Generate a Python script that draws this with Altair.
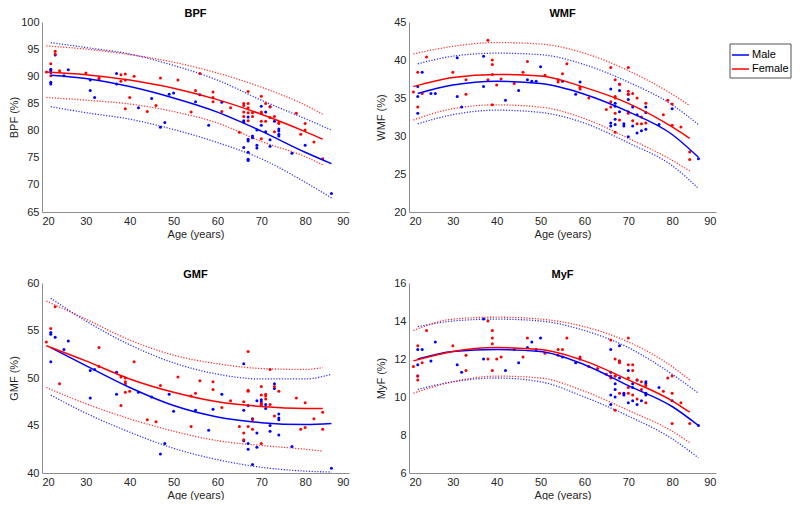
import altair as alt
import pandas as pd

BLUE = "#0000ff"
RED = "#ff0000"
FONT = "Liberation Sans"

# ---------------- fitted curves (read at knots) ----------------
ages_m_fit = [22, 30, 40, 50, 60, 70, 80, 86]
ages_f_fit = [21, 30, 40, 50, 60, 70, 80, 84]

bpf_m_fit = [90.2, 89.6, 88.1, 86.0, 83.4, 79.9, 76.0, 73.9]
bpf_m_lo = [84.4, 83.3, 82.1, 80.2, 77.8, 74.8, 70.5, 67.6]
bpf_m_hi = [96.2, 95.3, 94.1, 92.0, 89.3, 85.6, 82.2, 80.1]
bpf_f_fit = [90.8, 90.3, 89.3, 87.8, 85.7, 83.0, 79.8, 78.4]
bpf_f_lo = [86.1, 85.6, 84.9, 83.5, 81.4, 78.0, 75.2, 73.7]
bpf_f_hi = [95.6, 95.0, 94.0, 92.6, 90.6, 88.0, 84.7, 83.0]

wmf_m_fit = [35.6, 36.7, 37.2, 36.9, 35.5, 33.2, 30.2, 27.2]
wmf_m_lo = [31.6, 32.8, 33.4, 33.1, 31.7, 29.1, 26.1, 23.1]
wmf_m_hi = [39.5, 40.5, 40.9, 40.7, 39.4, 37.1, 34.1, 31.5]
wmf_f_fit = [36.5, 37.7, 38.1, 37.9, 36.4, 34.3, 31.2, 29.7]
wmf_f_lo = [32.1, 33.6, 34.1, 33.8, 32.3, 29.7, 26.8, 25.4]
wmf_f_hi = [40.8, 41.8, 42.3, 42.1, 40.9, 38.6, 35.5, 34.0]

gmf_m_fit = [53.2, 51.3, 49.0, 47.1, 45.9, 45.3, 45.1, 45.2]
gmf_m_lo = [48.2, 46.3, 44.3, 42.6, 41.4, 40.6, 40.2, 40.1]
gmf_m_hi = [58.4, 56.0, 53.5, 51.6, 50.4, 49.9, 49.9, 50.4]
gmf_f_fit = [53.4, 51.8, 49.9, 48.5, 47.5, 47.0, 46.8, 46.8]
gmf_f_lo = [49.0, 47.3, 45.7, 44.4, 43.4, 42.9, 42.5, 42.3]
gmf_f_hi = [58.1, 56.2, 54.0, 52.4, 51.5, 51.0, 50.9, 51.1]

myf_m_fit = [12.0, 12.4, 12.5, 12.4, 11.7, 10.6, 9.5, 8.5]
myf_m_lo = [10.4, 10.8, 11.0, 10.8, 10.0, 9.0, 7.8, 6.8]
myf_m_hi = [13.7, 14.0, 14.1, 14.0, 13.5, 12.6, 11.2, 10.2]
myf_f_fit = [11.9, 12.4, 12.6, 12.5, 11.9, 10.9, 9.8, 9.2]
myf_f_lo = [10.2, 10.8, 11.1, 11.0, 10.3, 9.3, 8.2, 7.6]
myf_f_hi = [13.5, 14.1, 14.2, 14.1, 13.7, 12.9, 11.6, 10.9]

# ---------------- subject points: age -> values ----------------
bpf_male = {22: [91.3, 91.0, 90.7, 88.9, 88.6], 23: [93.9], 25: [90.1], 26: [91.2],
            31: [89.3, 87.4], 32: [86.1], 37: [90.5, 88.6], 42: [84.2], 45: [85.9],
            47: [80.6], 48: [81.5], 49: [86.7], 50: [86.9], 55: [85.3], 56: [86.6],
            58: [81.0], 61: [85.2], 66: [81.8, 81.6, 76.9],
            67: [82.5, 78.4, 78.1, 76.0, 74.7, 74.5], 68: [79.0, 78.7],
            69: [80.1, 77.3, 76.8], 70: [84.5, 81.0], 71: [83.4, 79.8],
            72: [84.4, 78.3, 77.1], 73: [81.7], 74: [80.3, 79.9, 79.3, 79.0],
            77: [75.8], 80: [77.3], 86: [68.4]}
bpf_female = {21: [90.8], 22: [92.3, 90.1], 23: [94.6, 94.1], 24: [91.0], 30: [90.6],
              33: [89.7, 89.5], 38: [90.3, 89.1], 39: [90.4, 89.3, 84.0], 40: [86.1],
              41: [90.0], 44: [83.5], 46: [84.6], 47: [89.7], 51: [89.3], 54: [83.4],
              55: [87.4], 56: [90.5], 59: [87.1, 86.1, 85.3], 61: [83.5], 63: [84.2],
              65: [79.7], 66: [85.0, 84.6, 83.4, 82.6], 67: [87.2, 85.0, 84.2, 83.3, 81.8],
              68: [83.3, 82.6], 70: [86.3, 83.4, 83.2, 81.7, 78.5], 71: [85.0, 81.7],
              72: [84.4, 82.4], 73: [82.6, 79.8], 74: [81.5, 81.3], 78: [83.2],
              79: [79.3], 80: [81.3, 80.1], 82: [77.9], 84: [74.8]}

wmf_male = {22: [36.5, 35.2, 33.0], 23: [38.4], 25: [35.6], 26: [35.6], 31: [40.3, 35.2],
            32: [33.8], 37: [40.5, 36.5], 42: [34.7], 45: [36.0], 47: [37.4], 48: [37.2],
            49: [37.2], 50: [39.1], 55: [37.2], 58: [35.5], 59: [37.1],
            66: [36.2, 31.7, 31.3], 67: [34.3, 33.9, 32.2, 31.5], 68: [36.8, 36.0, 33.2],
            69: [31.6, 31.3], 70: [35.5, 34.8, 29.9], 71: [33.8, 31.3], 72: [32.8, 30.4],
            73: [30.7], 74: [33.8, 33.1, 30.9], 77: [31.5], 80: [33.6], 86: [27.0]}
wmf_female = {21: [35.8], 22: [38.4, 33.8], 23: [35.6], 24: [40.4], 30: [38.4],
              33: [37.4, 35.5], 38: [42.6, 37.4], 39: [40.0, 39.4, 38.1, 34.1], 40: [36.7],
              41: [37.5], 44: [36.9], 46: [38.4], 47: [39.8], 51: [38.0], 54: [37.1, 37.4],
              55: [38.2], 56: [39.5], 59: [36.4, 36.2], 61: [35.0], 65: [33.5],
              66: [39.0, 34.5, 33.8], 67: [37.4, 35.2, 35.0, 33.0, 30.5], 68: [36.8, 32.1],
              70: [39.0, 35.9, 35.5, 33.2, 33.0], 71: [35.6, 32.0], 72: [35.0, 31.6],
              73: [32.5, 31.6], 74: [34.3, 31.7], 78: [32.8], 79: [34.7], 80: [34.2, 31.4],
              82: [31.2], 84: [27.9, 26.9]}

gmf_male = {22: [54.8, 54.6, 51.7], 23: [54.3], 25: [53.0], 26: [53.9], 31: [50.8, 47.9],
            32: [50.9], 37: [50.6, 48.3], 42: [48.5], 45: [48.0], 47: [42.0], 48: [43.1],
            49: [48.3], 50: [46.5], 55: [46.6], 58: [44.5], 59: [46.7], 61: [48.3],
            66: [51.5, 46.6, 43.4], 67: [47.1, 43.1, 42.5], 68: [45.7, 40.9],
            69: [47.6, 44.2, 42.7], 70: [47.7, 47.5, 47.2], 71: [47.2, 46.8],
            72: [45.0, 44.4], 73: [49.4, 48.9], 74: [46.2, 45.8, 45.6, 44.0], 77: [42.8],
            86: [40.5]}
gmf_female = {21: [53.8], 22: [55.2], 23: [57.5], 24: [49.4], 33: [53.2, 51.2],
              38: [50.1, 47.1], 39: [50.0, 49.6, 49.4, 48.5], 40: [48.6], 41: [51.7],
              44: [45.6], 46: [45.4], 47: [49.2], 51: [50.1], 54: [44.9, 48.1], 55: [48.4],
              56: [49.7], 59: [49.6, 48.8], 61: [46.9], 63: [47.6], 65: [44.9],
              66: [47.5, 44.2, 43.5], 67: [52.8, 48.7, 48.6, 44.9], 68: [45.6, 44.6],
              70: [49.1, 48.2, 47.3, 47.2, 43.1], 71: [48.3, 48.1, 47.8], 72: [50.9, 47.2],
              73: [49.1, 46.0], 74: [48.6], 78: [47.9], 79: [44.6], 80: [47.4, 44.8],
              82: [45.7], 84: [46.4, 44.6]}

myf_male = {22: [12.5, 11.7, 11.1], 23: [12.5], 25: [11.9], 26: [12.9], 31: [11.7],
            32: [11.3], 37: [14.1, 12.0], 42: [11.4], 45: [11.8], 47: [12.6], 48: [12.9],
            49: [12.5], 50: [13.1], 55: [12.1], 58: [11.8], 59: [12.0],
            66: [12.5, 11.3, 10.1, 9.6], 67: [11.1, 10.7, 10.4, 10.0], 68: [12.7, 11.9, 11.0],
            69: [10.2, 10.1], 70: [11.4, 9.7], 71: [10.7, 10.5, 9.8], 72: [10.9, 9.6],
            73: [9.8], 74: [10.8, 10.7, 10.2, 10.1], 77: [10.5], 80: [9.8], 86: [8.5]}
myf_female = {21: [11.6], 22: [12.7, 11.1, 10.9], 23: [11.8], 24: [13.5], 30: [12.7],
              33: [12.2, 11.4], 38: [14.0, 12.0], 39: [13.5, 13.1, 12.8, 11.4], 40: [12.0],
              41: [12.1], 44: [12.5], 46: [12.1], 47: [13.1], 51: [12.3], 54: [12.5, 12.2],
              55: [12.5], 56: [13.1], 59: [12.1], 61: [11.6], 63: [11.5], 65: [11.2],
              66: [13.0, 11.1, 11.0], 67: [12.0, 11.1, 9.3], 68: [11.9, 11.8, 10.2],
              70: [13.1, 11.7, 11.0, 10.5, 10.2], 71: [11.7, 11.4, 10.1], 72: [10.9, 9.9],
              73: [10.8, 10.4], 74: [10.6, 9.7], 78: [10.3], 79: [11.0],
              80: [11.1, 10.2, 8.6], 82: [9.7], 84: [8.6]}

x_ticks = [20, 30, 40, 50, 60, 70, 80, 90]
sex_domain = ["Male", "Female"]
sex_colors = [BLUE, RED]


def pts_df(male, female):
    rows = [(a, v, "Male") for a, vs in male.items() for v in vs]
    rows += [(a, v, "Female") for a, vs in female.items() for v in vs]
    return pd.DataFrame(rows, columns=["age", "value", "sex"])


def curve_df(mfit, mlo, mhi, ffit, flo, fhi):
    m = pd.DataFrame({"age": ages_m_fit, "fit": mfit, "lo": mlo, "hi": mhi, "sex": "Male"})
    f = pd.DataFrame({"age": ages_f_fit, "fit": ffit, "lo": flo, "hi": fhi, "sex": "Female"})
    return pd.concat([m, f], ignore_index=True)


W, H = 307, 190
cscale = alt.Scale(domain=sex_domain, range=sex_colors)


def legend_layers():
    # boxed legend to the right of the panel (outside the plot area)
    one = pd.DataFrame({"k": [0]})
    box = alt.Chart(one).mark_rect(fill="white", stroke="#262626", strokeWidth=0.8,
                                   clip=False).encode(
        x=alt.value(W + 14), x2=alt.value(W + 75), y=alt.value(22), y2=alt.value(56))
    layers = [box]
    for i, (name, col) in enumerate(zip(sex_domain, sex_colors)):
        yy = 33 + 14 * i
        d = pd.DataFrame({"label": [name]})
        layers.append(alt.Chart(d).mark_rule(color=col, strokeWidth=1.5, clip=False).encode(
            x=alt.value(W + 16), x2=alt.value(W + 33), y=alt.value(yy)))
        layers.append(alt.Chart(d).mark_text(align="left", baseline="middle", fontSize=11,
                                             color="#000000", font=FONT, clip=False).encode(
            x=alt.value(W + 36), y=alt.value(yy), text="label:N"))
    return layers


def panel(title, ytitle, ydom, yvals, pts, curves, with_legend=False):
    xenc = alt.X("age:Q", scale=alt.Scale(domain=[20, 90], nice=False, zero=False),
                 axis=alt.Axis(values=x_ticks, title="Age (years)"))
    ysc = alt.Scale(domain=ydom, nice=False, zero=False)
    yax = alt.Axis(values=yvals, title=ytitle)
    col = alt.Color("sex:N", scale=cscale, legend=None)

    dots = alt.Chart(pts).mark_circle(size=9, opacity=1).encode(
        x=xenc, y=alt.Y("value:Q", scale=ysc, axis=yax), color=col)
    lo = alt.Chart(curves).mark_line(strokeDash=[1.2, 1.6], strokeWidth=1.3,
                                     interpolate="monotone", opacity=0.8).encode(
        x=xenc, y=alt.Y("lo:Q", scale=ysc, axis=yax), color=col)
    hi = alt.Chart(curves).mark_line(strokeDash=[1.2, 1.6], strokeWidth=1.3,
                                     interpolate="monotone", opacity=0.8).encode(
        x=xenc, y=alt.Y("hi:Q", scale=ysc, axis=yax), color=col)
    fit = alt.Chart(curves).mark_line(strokeWidth=1.5, interpolate="monotone").encode(
        x=xenc, y=alt.Y("fit:Q", scale=ysc, axis=yax), color=col)
    layers = [lo, hi, dots, fit]
    if with_legend:
        layers += legend_layers()
    return alt.layer(*layers).properties(
        width=W, height=H,
        title=alt.TitleParams(title, fontSize=11, fontWeight="bold", offset=-3))


bpf = panel("BPF", "BPF (%)", [65, 100], [65, 70, 75, 80, 85, 90, 95, 100],
            pts_df(bpf_male, bpf_female),
            curve_df(bpf_m_fit, bpf_m_lo, bpf_m_hi, bpf_f_fit, bpf_f_lo, bpf_f_hi))
wmf = panel("WMF", "WMF (%)", [20, 45], [20, 25, 30, 35, 40, 45],
            pts_df(wmf_male, wmf_female),
            curve_df(wmf_m_fit, wmf_m_lo, wmf_m_hi, wmf_f_fit, wmf_f_lo, wmf_f_hi),
            with_legend=True)
gmf = panel("GMF", "GMF (%)", [40, 60], [40, 45, 50, 55, 60],
            pts_df(gmf_male, gmf_female),
            curve_df(gmf_m_fit, gmf_m_lo, gmf_m_hi, gmf_f_fit, gmf_f_lo, gmf_f_hi))
myf = panel("MyF", "MyF (%)", [6, 16], [6, 8, 10, 12, 14, 16],
            pts_df(myf_male, myf_female),
            curve_df(myf_m_fit, myf_m_lo, myf_m_hi, myf_f_fit, myf_f_lo, myf_f_hi))

chart = alt.vconcat(
    alt.hconcat(bpf, wmf, spacing=26),
    alt.hconcat(gmf, myf, spacing=26),
    spacing=30,
).properties(padding=0).configure(font=FONT).configure_view(stroke=None).configure_axis(
    grid=False, ticks=False, domainColor="#8c8c8c", domainWidth=1,
    labelFontSize=11, labelColor="#262626", labelPadding=3,
    titleFontSize=11, titleFontWeight="normal", titleColor="#262626",
).configure_axisY(minExtent=22, maxExtent=22, titlePadding=1).configure_axisX(
    titlePadding=2).configure_title(color="#000000", font=FONT)

chart.save("out.html", embed_options={"renderer": "svg", "actions": False})
